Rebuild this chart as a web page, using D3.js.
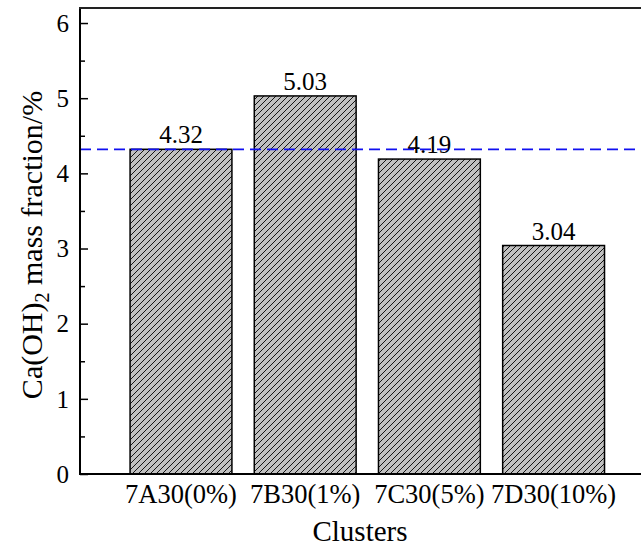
<!DOCTYPE html>
<html>
<head>
<meta charset="utf-8">
<script src="https://cdn.jsdelivr.net/npm/d3@7"></script>
<style>
  html, body { margin: 0; padding: 0; background: #fff; }
  svg { display: block; }
  text { font-family: "Liberation Serif", "Times New Roman", serif; fill: #000; }
</style>
</head>
<body>
<script>
// Ca(OH)2 content per cluster
const categories = ["7A30(0%)", "7B30(1%)", "7C30(5%)", "7D30(10%)"];
const values = [4.32, 5.03, 4.19, 3.04];
const valueLabels = ["4.32", "5.03", "4.19", "3.04"];
const referenceValue = 4.32;
const yTicks = [0, 1, 2, 3, 4, 5, 6];
const yMinorTicks = [0.5, 1.5, 2.5, 3.5, 4.5, 5.5];

const W = 641, H = 548;
const plotLeft = 80, plotTop = 8, plotBottom = 474, plotRight = 641;

const svg = d3.select("body").append("svg").attr("width", W).attr("height", H);

// diagonal hatch for the bars
const defs = svg.append("defs");
const pat = defs.append("pattern")
  .attr("id", "hatch")
  .attr("patternUnits", "userSpaceOnUse")
  .attr("width", 6).attr("height", 6);
pat.append("rect").attr("width", 6).attr("height", 6).attr("fill", "#c0c0c0");
pat.append("path")
  .attr("d", "M-1,1 l2,-2 M0,6 l6,-6 M5,7 l2,-2")
  .attr("stroke", "#000").attr("stroke-width", 0.9);

const y = d3.scaleLinear().domain([0, 6.2]).range([plotBottom, plotTop]);
const x = d3.scaleBand().domain(categories)
  .range([118.9, 615.7]).paddingInner(0.18).paddingOuter(0.09);

// bars
svg.append("g").selectAll("rect").data(values).join("rect")
  .attr("x", (d, i) => x(categories[i]))
  .attr("y", d => y(d))
  .attr("width", x.bandwidth())
  .attr("height", d => y(0) - y(d))
  .attr("fill", "url(#hatch)")
  .attr("stroke", "#000")
  .attr("stroke-width", 1.5);

// value labels
svg.append("g").selectAll("text").data(values).join("text")
  .attr("x", (d, i) => x(categories[i]) + x.bandwidth() / 2)
  .attr("y", d => y(d) - 6)
  .attr("text-anchor", "middle")
  .attr("font-size", 25)
  .text((d, i) => valueLabels[i]);

// reference line
svg.append("line")
  .attr("x1", plotLeft).attr("x2", plotRight)
  .attr("y1", y(referenceValue)).attr("y2", y(referenceValue))
  .attr("stroke", "#1010f0").attr("stroke-width", 1.8)
  .attr("stroke-dasharray", "11,6");

// frame: left axis, top line, bottom axis
const yAxis = d3.axisRight(y).tickValues(yTicks).tickSize(8).tickFormat("");
const gy = svg.append("g").attr("transform", `translate(${plotLeft},0)`).call(yAxis);
gy.select(".domain").remove();
gy.selectAll(".tick line").attr("stroke", "#000").attr("stroke-width", 1.5);
const yMinor = d3.axisRight(y).tickValues(yMinorTicks).tickSize(5).tickFormat("");
const gym = svg.append("g").attr("transform", `translate(${plotLeft},0)`).call(yMinor);
gym.select(".domain").remove();
gym.selectAll(".tick line").attr("stroke", "#000").attr("stroke-width", 1.5);

svg.append("g").selectAll("text").data(yTicks).join("text")
  .attr("x", plotLeft - 11)
  .attr("y", d => y(d))
  .attr("dy", "0.35em")
  .attr("text-anchor", "end")
  .attr("font-size", 25)
  .text(d => d);

svg.append("line").attr("x1", plotLeft).attr("x2", plotLeft).attr("y1", plotTop - 1).attr("y2", plotBottom + 1)
  .attr("stroke", "#000").attr("stroke-width", 2);
svg.append("line").attr("x1", plotLeft - 1).attr("x2", plotRight).attr("y1", plotTop).attr("y2", plotTop)
  .attr("stroke", "#222").attr("stroke-width", 2);
svg.append("line").attr("x1", plotLeft - 1).attr("x2", plotRight).attr("y1", plotBottom).attr("y2", plotBottom)
  .attr("stroke", "#000").attr("stroke-width", 2);

// category labels
const xAxis = d3.axisBottom(x).tickSize(0).tickPadding(0);
const gx = svg.append("g").attr("transform", `translate(0,${plotBottom})`).call(xAxis);
gx.select(".domain").remove();
gx.selectAll(".tick text")
  .attr("y", 29).attr("dy", 0)
  .attr("font-size", 26.5)
  .attr("font-family", "Liberation Serif, serif")
  .attr("fill", "#000");

// axis titles
svg.append("text")
  .attr("x", 360)
  .attr("y", 541)
  .attr("text-anchor", "middle")
  .attr("font-size", 29)
  .text("Clusters");

const yt = svg.append("text")
  .attr("transform", `translate(42,245) rotate(-90)`)
  .attr("text-anchor", "middle")
  .attr("font-size", 30);
yt.append("tspan").text("Ca(OH)");
yt.append("tspan").attr("font-size", 20).attr("dy", 7).text("2");
yt.append("tspan").attr("dy", -7).text(" mass fraction/%");
</script>
</body>
</html>
